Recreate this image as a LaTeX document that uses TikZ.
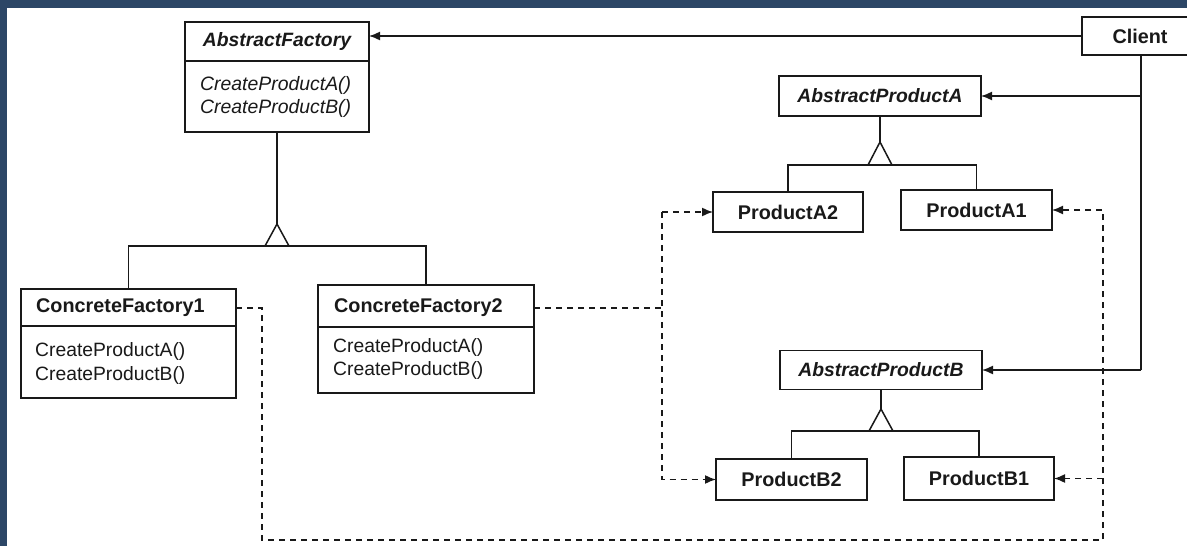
\documentclass[tikz,border=0pt]{standalone}
\usepackage{fontspec}
\setmainfont{Liberation Sans}
\usetikzlibrary{arrows.meta}
\definecolor{frame}{RGB}{44,70,102}
\definecolor{ink}{RGB}{25,25,25}
\begin{document}
\begin{tikzpicture}[x=1pt,y=-1pt,
  box/.style={draw=ink,line width=1.7pt,inner sep=0pt,outer sep=0pt,fill=white},
  ab/.style={font=\fontsize{19.3}{22}\selectfont\bfseries\itshape,text=ink,inner sep=0pt},
  bd/.style={font=\fontsize{19.8}{22}\selectfont\bfseries,text=ink,inner sep=0pt},
  mi/.style={font=\fontsize{19.4}{22}\selectfont\itshape,text=ink,inner sep=0pt,anchor=west},
  mr/.style={font=\fontsize{19.3}{22}\selectfont,text=ink,inner sep=0pt,anchor=west},
  ln/.style={draw=ink,line width=1.5pt},
  arr/.style={ln,-{Latex[length=11pt,width=9pt]}},
  dsh/.style={draw=ink,line width=1.5pt,dash pattern=on 6pt off 5pt},
  dsharr/.style={dsh,-{Latex[length=11pt,width=9pt]}},
  div/.style={draw=ink,line width=1.3pt}
]
\useasboundingbox (0,0) rectangle (1187,546);
\fill[white] (0,0) rectangle (1187,546);
\fill[frame] (0,0) rectangle (1187,8);
\fill[frame] (0,0) rectangle (7,546);

% AbstractFactory
\node[box,minimum width=184,minimum height=110] (af) at (277,77) {};
\node[ab] (aft) at (277,42) {AbstractFactory};
\draw[div] ([yshift=-39pt]af.north west) -- ([yshift=-39pt]af.north east);
\node[mi] (afm1) at (200,85) {CreateProductA()};
\node[mi] (afm2) at (200,108) {CreateProductB()};

% Client (box runs off the right edge)
\node[minimum width=105,minimum height=38,inner sep=0pt,outer sep=0pt] (client) at (1134.5,36) {};
\draw[box] (client.north east) -- (client.north west) -- (client.south west) -- (client.south east);
\node[bd] (clt) at (1140,36) {Client};
\coordinate (cv) at (1141,0);

% ConcreteFactory1
\node[box,minimum width=215,minimum height=109] (cf1) at (128.5,343.5) {};
\node[bd,anchor=west] (cf1t) at (36,308) {ConcreteFactory1};
\draw[div] ([yshift=-37pt]cf1.north west) -- ([yshift=-37pt]cf1.north east);
\node[mr] (cf1m1) at (35,352) {CreateProductA()};
\node[mr] (cf1m2) at (35,376) {CreateProductB()};

% ConcreteFactory2
\node[box,minimum width=216,minimum height=108] (cf2) at (426,339) {};
\node[bd,anchor=west] (cf2t) at (334,308) {ConcreteFactory2};
\draw[div] ([yshift=-42pt]cf2.north west) -- ([yshift=-42pt]cf2.north east);
\node[mr] (cf2m1) at (333,348) {CreateProductA()};
\node[mr] (cf2m2) at (333,371) {CreateProductB()};

% Products
\node[box,minimum width=202,minimum height=40] (apa) at (880,96) {};
\node[ab] (apat) at (880,96) {AbstractProductA};
\node[box,minimum width=150,minimum height=40] (pa2) at (788,212) {};
\node[bd] (pa2t) at (788,212) {ProductA2};
\node[box,minimum width=151,minimum height=40] (pa1) at (976.5,210) {};
\node[bd] (pa1t) at (976.5,210) {ProductA1};

\node[box,minimum width=202,minimum height=39] (apb) at (881,370) {};
\node[ab] (apbt) at (881,370) {AbstractProductB};
\node[box,minimum width=151,minimum height=41] (pb2) at (791.5,479.5) {};
\node[bd] (pb2t) at (791.5,479.5) {ProductB2};
\node[box,minimum width=150,minimum height=43] (pb1) at (979,478.5) {};
\node[bd] (pb1t) at (979,478.5) {ProductB1};

% Inheritance: factories
\coordinate (afA) at (277,224);
\coordinate (afB) at (277,246);
\draw[ln] (af.south) -- (afA);
\draw[ln,fill=white] (afA) -- ++(-12,22) -- ++(24,0) -- cycle;
\draw[ln] (cf1.north) |- (afB) -| (cf2.north);

% Inheritance: products A
\coordinate (aA) at (880,142);
\coordinate (aB) at (880,165);
\draw[ln] (apa.south) -- (aA);
\draw[ln,fill=white] (aA) -- ++(-12,23) -- ++(24,0) -- cycle;
\draw[ln] (pa2.north) |- (aB) -| (pa1.north);

% Inheritance: products B
\coordinate (bA) at (881,409);
\coordinate (bB) at (881,431);
\draw[ln] (apb.south) -- (bA);
\draw[ln,fill=white] (bA) -- ++(-12,22) -- ++(24,0) -- cycle;
\draw[ln] (pb2.north) |- (bB) -| (pb1.north);

% Client associations
\draw[arr] (client.west) -- (client.west -| af.east);
\draw[ln] (client.south -| cv) -- (cv |- apb.east);
\draw[arr] (cv |- apa.east) -- (apa.east);
\draw[arr] (cv |- apb.east) -- (apb.east);

% Dependencies from ConcreteFactory1
\coordinate (r1) at (262,540);
\coordinate (r2) at (1103,540);
\draw[dsharr] (cf1t -| cf1.east) -| (r1) -- (r2) |- (pa1.east);
\draw[dsharr] (r2 |- pb1.east) -- (pb1.east);

% Dependencies from ConcreteFactory2
\coordinate (l1) at (662,0);
\draw[dsh] (cf2t -| cf2.east) -- (cf2t -| l1);
\draw[dsharr] (l1 |- pa2.west) -- (pa2.west);
\draw[dsharr] (l1 |- pa2.west) |- (pb2.west);
\end{tikzpicture}
\end{document}
